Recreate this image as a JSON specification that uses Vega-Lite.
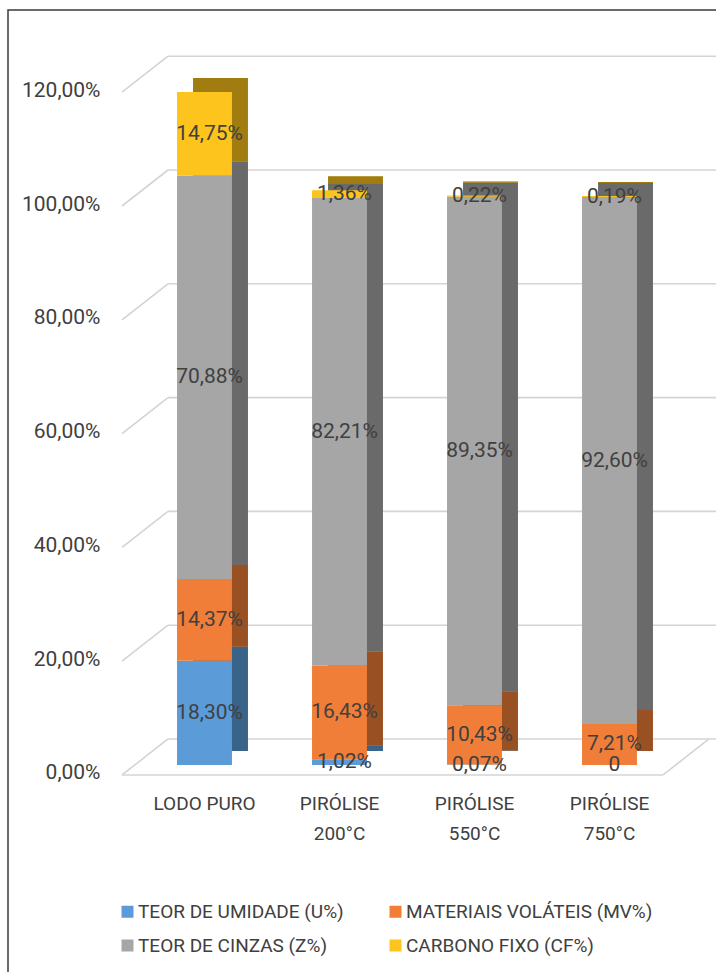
{
  "$schema": "https://vega.github.io/schema/vega-lite/v6.json",
  "autosize": {"type": "none"},
  "width": 720,
  "height": 970,
  "padding": {"left": 8, "top": 10, "right": 0, "bottom": 0},
  "background": "white",
  "config": {
    "locale": {"number": {"decimal": ",", "thousands": ".", "grouping": [3], "currency": ["", ""]}},
    "view": {"stroke": "#3a3a3a", "strokeWidth": 1.5},
    "font": "Roboto, sans-serif"
  },
  "datasets": {
    "composicao": [
      {"amostra": "LODO PURO", "comp": "TEOR DE UMIDADE (U%)", "k": 1, "value": 0.1830},
      {"amostra": "LODO PURO", "comp": "MATERIAIS VOLÁTEIS (MV%)", "k": 2, "value": 0.1437},
      {"amostra": "LODO PURO", "comp": "TEOR DE CINZAS (Z%)", "k": 3, "value": 0.7088},
      {"amostra": "LODO PURO", "comp": "CARBONO FIXO (CF%)", "k": 4, "value": 0.1475},
      {"amostra": "PIRÓLISE 200°C", "comp": "TEOR DE UMIDADE (U%)", "k": 1, "value": 0.0102},
      {"amostra": "PIRÓLISE 200°C", "comp": "MATERIAIS VOLÁTEIS (MV%)", "k": 2, "value": 0.1643},
      {"amostra": "PIRÓLISE 200°C", "comp": "TEOR DE CINZAS (Z%)", "k": 3, "value": 0.8221},
      {"amostra": "PIRÓLISE 200°C", "comp": "CARBONO FIXO (CF%)", "k": 4, "value": 0.0136},
      {"amostra": "PIRÓLISE 550°C", "comp": "TEOR DE UMIDADE (U%)", "k": 1, "value": 0.0007},
      {"amostra": "PIRÓLISE 550°C", "comp": "MATERIAIS VOLÁTEIS (MV%)", "k": 2, "value": 0.1043},
      {"amostra": "PIRÓLISE 550°C", "comp": "TEOR DE CINZAS (Z%)", "k": 3, "value": 0.8935},
      {"amostra": "PIRÓLISE 550°C", "comp": "CARBONO FIXO (CF%)", "k": 4, "value": 0.0022},
      {"amostra": "PIRÓLISE 750°C", "comp": "TEOR DE UMIDADE (U%)", "k": 1, "value": 0},
      {"amostra": "PIRÓLISE 750°C", "comp": "MATERIAIS VOLÁTEIS (MV%)", "k": 2, "value": 0.0721},
      {"amostra": "PIRÓLISE 750°C", "comp": "TEOR DE CINZAS (Z%)", "k": 3, "value": 0.9260},
      {"amostra": "PIRÓLISE 750°C", "comp": "CARBONO FIXO (CF%)", "k": 4, "value": 0.0019}
    ],
    "grade": [
      {"value": 0}, {"value": 0.2}, {"value": 0.4}, {"value": 0.6},
      {"value": 0.8}, {"value": 1.0}, {"value": 1.2}
    ],
    "piso": [{"value": 0}]
  },
  "encoding": {
    "y": {
      "field": "value", "type": "quantitative",
      "scale": {"domain": [-0.3779, 1.3269], "nice": false, "zero": false},
      "axis": {
        "title": null, "orient": "left",
        "values": [0, 0.2, 0.4, 0.6, 0.8, 1.0, 1.2],
        "format": ".2%", "domain": false, "ticks": false, "tickSize": 0, "grid": false,
        "labelPadding": 0, "offset": -92, "labelFontSize": 21, "labelColor": "#404040",
        "labelOffset": 8, "labelFlush": false
      }
    }
  },
  "layer": [
    {
      "data": {"name": "grade"},
      "mark": {"type": "rule", "color": "#d4d4d4", "strokeWidth": 1.6, "yOffset": -26},
      "encoding": {
        "x": {"value": 160},
        "x2": {"value": 720}
      }
    },
    {
      "data": {"name": "grade"},
      "mark": {"type": "rule", "color": "#d4d4d4", "strokeWidth": 1.6, "yOffset": 10, "y2Offset": -26},
      "encoding": {
        "y2": {"field": "value"},
        "x": {"value": 114},
        "x2": {"value": 160}
      }
    },
    {
      "data": {"name": "piso"},
      "mark": {"type": "rule", "color": "#d4d4d4", "strokeWidth": 1.6, "yOffset": 10},
      "encoding": {
        "x": {"value": 114},
        "x2": {"value": 655}
      }
    },
    {
      "data": {"name": "piso"},
      "mark": {"type": "rule", "color": "#d4d4d4", "strokeWidth": 1.6, "yOffset": 10, "y2Offset": -26},
      "encoding": {
        "y2": {"field": "value"},
        "x": {"value": 655},
        "x2": {"value": 701}
      }
    },
    {
      "data": {"name": "composicao"},
      "mark": {"type": "bar", "xOffset": 16, "yOffset": -14},
      "encoding": {
        "x": {
          "field": "amostra", "type": "nominal",
          "scale": {
            "domain": ["LODO PURO", "PIRÓLISE 200°C", "PIRÓLISE 550°C", "PIRÓLISE 750°C"],
            "range": [129, 669], "paddingInner": 0.593, "paddingOuter": 0.2965
          },
          "axis": {
            "title": null, "orient": "bottom", "offset": -186,
            "domain": false, "ticks": false, "tickSize": 0, "labelPadding": 0,
            "labelBaseline": "top", "labelFontSize": 19, "labelLineHeight": 30,
            "labelAngle": 0, "labelColor": "#404040",
            "labelExpr": "datum.value == 'LODO PURO' ? datum.value : split(datum.value, ' ')"
          }
        },
        "y": {"field": "value", "type": "quantitative", "stack": "zero"},
        "color": {"field": "comp", "type": "nominal"},
        "order": {"field": "k", "type": "quantitative"}
      }
    },
    {
      "data": {"name": "composicao"},
      "mark": {"type": "bar", "xOffset": 16, "yOffset": -14, "color": "#000000", "opacity": 0.36},
      "encoding": {
        "x": {"field": "amostra", "type": "nominal"},
        "y": {"field": "value", "type": "quantitative", "stack": "zero"},
        "detail": {"field": "comp"},
        "order": {"field": "k", "type": "quantitative"}
      }
    },
    {
      "data": {"name": "composicao"},
      "mark": {"type": "bar"},
      "encoding": {
        "x": {"field": "amostra", "type": "nominal"},
        "y": {"field": "value", "type": "quantitative", "stack": "zero"},
        "color": {
          "field": "comp", "type": "nominal",
          "scale": {
            "domain": ["TEOR DE UMIDADE (U%)", "MATERIAIS VOLÁTEIS (MV%)", "TEOR DE CINZAS (Z%)", "CARBONO FIXO (CF%)"],
            "range": ["#5b9bd8", "#f07e38", "#a6a6a6", "#fcc41c"]
          },
          "legend": {
            "orient": "none", "legendX": 110, "legendY": 892, "columns": 2, "direction": "horizontal",
            "title": null,
            "symbolType": "square", "symbolSize": 144, "symbolStrokeWidth": 0, "symbolOpacity": 1,
            "labelFontSize": 19, "labelColor": "#404040", "labelOffset": 1,
            "columnPadding": 42, "rowPadding": 14, "labelLimit": 400
          }
        },
        "order": {"field": "k", "type": "quantitative"}
      }
    },
    {
      "data": {"name": "composicao"},
      "mark": {"type": "text", "fontSize": 21, "color": "#404040", "xOffset": 5, "baseline": "middle"},
      "encoding": {
        "x": {"field": "amostra", "type": "nominal"},
        "y": {"field": "value", "type": "quantitative", "stack": "zero", "bandPosition": 0.5},
        "detail": {"field": "comp"},
        "order": {"field": "k", "type": "quantitative"},
        "text": {
          "condition": {"test": "datum.value === 0", "value": "0"},
          "field": "value", "type": "quantitative", "format": ".2%"
        }
      }
    }
  ]
}
